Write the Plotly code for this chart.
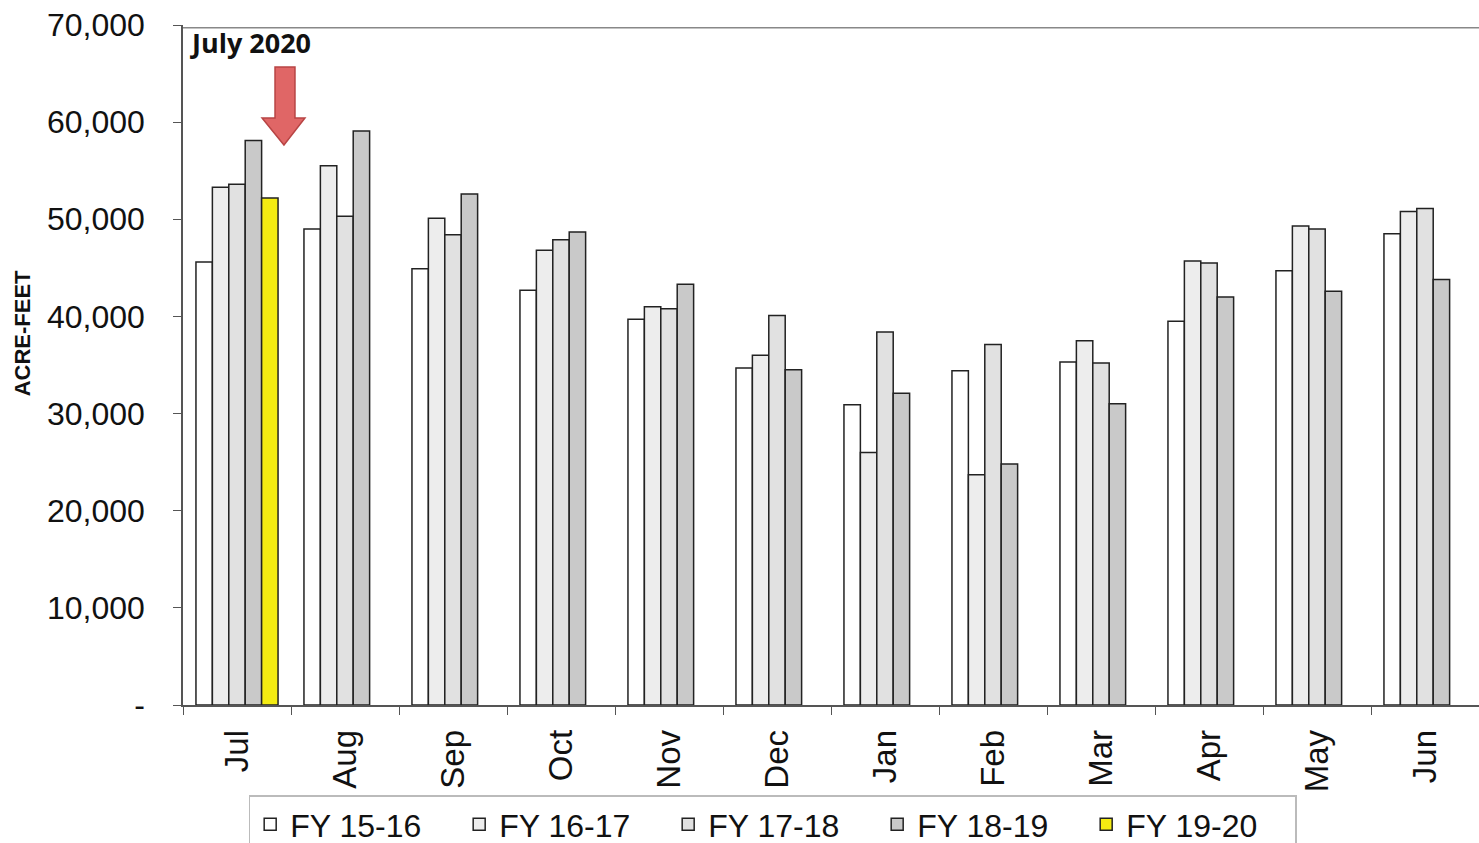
import plotly.graph_objects as go

months = ["Jul", "Aug", "Sep", "Oct", "Nov", "Dec", "Jan", "Feb", "Mar", "Apr", "May", "Jun"]
fy_15_16 = [45600, 49000, 44900, 42700, 39700, 34700, 30900, 34400, 35300, 39500, 44700, 48500]
fy_16_17 = [53300, 55500, 50100, 46800, 41000, 36000, 26000, 23700, 37500, 45700, 49300, 50800]
fy_17_18 = [53600, 50300, 48400, 47900, 40800, 40100, 38400, 37100, 35200, 45500, 49000, 51100]
fy_18_19 = [58100, 59100, 52600, 48700, 43300, 34500, 32100, 24800, 31000, 42000, 42600, 43800]
fy_19_20 = [52200, None, None, None, None, None, None, None, None, None, None, None]

series_names = ["FY 15-16", "FY 16-17", "FY 17-18", "FY 18-19", "FY 19-20"]
series_colors = ["#ffffff", "#ededed", "#e1e1e1", "#c9c9c9", "#f4ec12"]
series_values = [fy_15_16, fy_16_17, fy_17_18, fy_18_19, fy_19_20]

y_ticks = [0, 10000, 20000, 30000, 40000, 50000, 60000, 70000]
y_tick_text = ["-", "10,000", "20,000", "30,000", "40,000", "50,000", "60,000", "70,000"]

fig = go.Figure()
for name, color, vals in zip(series_names, series_colors, series_values):
    fig.add_trace(go.Bar(
        x=months, y=vals, name=name,
        marker=dict(color=color, line=dict(color="#222222", width=1.5)),
    ))

fig.update_layout(
    width=1479, height=843,
    margin=dict(l=183, r=0, t=25, b=138, autoexpand=False),
    paper_bgcolor="white", plot_bgcolor="white",
    barmode="group", bargap=0.24, bargroupgap=0,
    font=dict(family="Liberation Sans, Arial", color="#111111"),
    showlegend=True,
    legend=dict(
        orientation="h", x=0.455, xanchor="center", y=-0.133, yanchor="top",
        bordercolor="#bbbbbb", borderwidth=1.5, bgcolor="white",
        font=dict(family="Liberation Sans Narrow, Liberation Sans", size=32, color="#111111"),
        entrywidth=164, entrywidthmode="pixels", itemwidth=30,
        traceorder="normal",
    ),
    xaxis=dict(
        type="category", tickangle=-90, automargin=False,
        tickfont=dict(family="Liberation Sans, Arial", size=33, color="#111111"),
        ticks="outside", tickson="boundaries", ticklen=8, tickcolor="#555555",
        ticklabelstandoff=10,
        showline=True, linecolor="#555555", linewidth=1.5,
        mirror=False, showgrid=False,
    ),
    yaxis=dict(
        range=[0, 70000], tickvals=y_ticks, ticktext=y_tick_text, automargin=False,
        tickfont=dict(family="Liberation Sans, Arial", size=32, color="#111111"),
        ticks="outside", ticklen=8, tickcolor="#555555", ticklabelstandoff=22,
        showline=True, linecolor="#555555", linewidth=1.5, mirror=False,
        showgrid=False, zeroline=False,
    ),
)

# y-axis title
fig.add_annotation(
    text="<b>ACRE-FEET</b>", xref="paper", yref="paper", x=-0.124, y=0.547,
    xanchor="center", yanchor="middle", showarrow=False, textangle=-90,
    font=dict(family="Liberation Sans Narrow, Liberation Sans", size=22, color="#111111"),
)

# top border of plot area
fig.add_shape(type="line", xref="paper", yref="paper", x0=0, x1=1, y0=0.996, y1=0.996,
              line=dict(color="#888888", width=1.5))

fig.add_annotation(
    text="<b>July 2020</b>", xref="paper", yref="paper", x=0.004, y=0.975,
    xanchor="left", yanchor="middle", showarrow=False,
    font=dict(family="Open Sans, Lato", size=27, color="#111111"),
)

# red down arrow
ax = [0.0710, 0.0864, 0.0941, 0.0779, 0.0610]
ay = [0.9382, 0.8632, 0.8235]
path = (f"M {ax[0]} {ay[0]} L {ax[1]} {ay[0]} L {ax[1]} {ay[1]} L {ax[2]} {ay[1]} "
        f"L {ax[3]} {ay[2]} L {ax[4]} {ay[1]} L {ax[0]} {ay[1]} Z")
fig.add_shape(type="path", xref="paper", yref="paper", path=path,
              fillcolor="#e06666", line=dict(color="#b84444", width=1.5))

fig.write_html("out.html", config={"displayModeBar": False},
               post_script="document.body.style.margin='0';")
